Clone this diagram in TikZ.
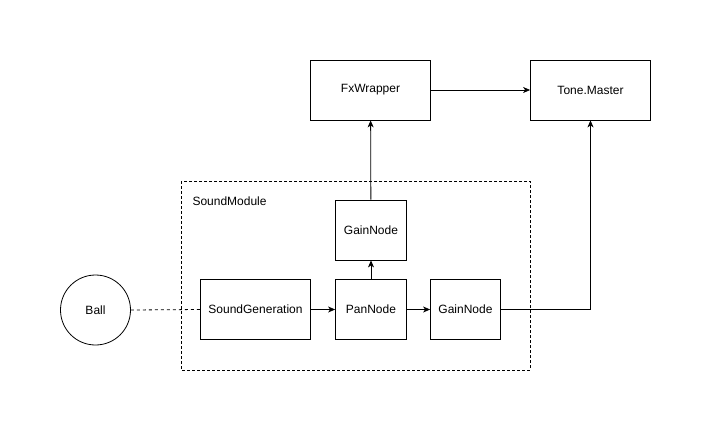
\documentclass[tikz,border=0pt]{standalone}
\usepackage{fontspec}
\setmainfont{Liberation Sans}
\usetikzlibrary{arrows.meta}
\begin{document}
\begin{tikzpicture}[x=1pt,y=-1pt,
  box/.style={draw, line width=0.8pt, minimum width=#1, minimum height=60pt, inner sep=0pt, font=\fontsize{12}{14}\selectfont},
  box/.default=120pt,
  arr/.style={draw, line width=0.8pt, -{Stealth[length=7pt,width=6pt,inset=2pt]}},
  lbl/.style={font=\fontsize{12}{14}\selectfont}]
\useasboundingbox (0,0) rectangle (712,431);
\draw[dashed, line width=0.7pt, dash pattern=on 3pt off 2pt] (181,181) rectangle (530,370);
\node[lbl, anchor=west] (sm) at (189,201) {SoundModule};
\node[box=120pt] (fx) at (370.5,90) {FxWrapper};
\node[box=120pt] (tm) at (590.5,90) {Tone.Master};
\node[box=71pt] (g1) at (371,230) {GainNode};
\node[box=110pt] (sg) at (255.5,309.5) {SoundGeneration};
\node[box=71pt] (pn) at (371,309.5) {PanNode};
\node[box=70pt] (g2) at (465.5,309.5) {GainNode};
\node[draw, circle, line width=0.8pt, minimum size=70pt, inner sep=0pt, lbl] (ball) at (95.5,310) {Ball};
\draw[dashed, line width=0.8pt, dash pattern=on 3pt off 3pt] (ball.east) -- (sg.west);
\draw[arr] (sg) -- (pn);
\draw[arr] (pn) -- (g2);
\draw[arr] (pn) -- (g1);
\draw[arr] (g1) -- (fx);
\draw[arr] (fx) -- (tm);
\coordinate (c1) at (590.5,309.5);
\draw[arr] (g2.east) -- (c1) -- (tm.south);
\end{tikzpicture}
\end{document}
